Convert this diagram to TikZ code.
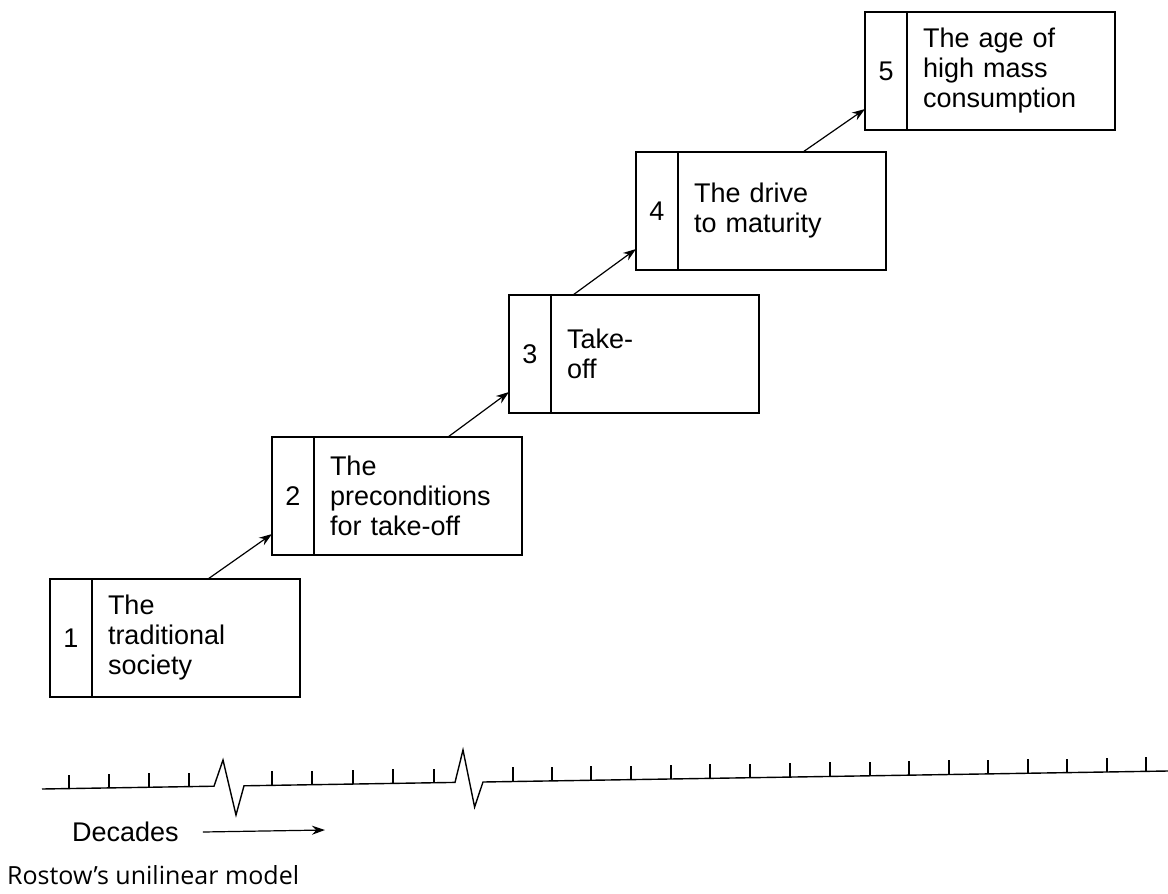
\documentclass[tikz,border=0pt]{standalone}
\usepackage{fontspec}
\usetikzlibrary{positioning,arrows.meta}
\newfontfamily\boxfont{Liberation Sans}
\newfontfamily\capfont{Open Sans}

\tikzset{
  numbox/.style={draw, line width=1.4pt, outer sep=0pt, inner sep=0pt,
    minimum width=42pt, minimum height=118pt, anchor=north west,
    font={\boxfont\fontsize{27pt}{30pt}\selectfont}},
  stagebox/.style={draw, line width=1.4pt, outer sep=0pt, inner xsep=16pt,
    minimum width=208pt, minimum height=118pt, text width=176pt, align=left,
    font={\boxfont\fontsize{27pt}{30pt}\selectfont}},
  stagearrow/.style={line width=1.2pt, -{Stealth[length=13pt,width=9pt]}},
  axisline/.style={line width=1.4pt, line join=miter}
}

\begin{document}
\begin{tikzpicture}[x=1pt,y=-1pt]
\useasboundingbox (0,0) rectangle (1168,894);

% the five stages
\node[numbox] (n1) at (50,579) {1};
\node[stagebox, right=0pt of n1] (t1) {The\\traditional\\society};
\node[numbox] (n2) at (272,437) {2};
\node[stagebox, right=0pt of n2] (t2) {The\\preconditions\\for take-off};
\node[numbox] (n3) at (509,295) {3};
\node[stagebox, right=0pt of n3] (t3) {Take-\\off};
\node[numbox] (n4) at (636,152) {4};
\node[stagebox, right=0pt of n4] (t4) {The drive\\to maturity};
\node[numbox] (n5) at (865,12) {5};
\node[stagebox, right=0pt of n5] (t5) {The age of\\high mass\\consumption};

% arrows between stages
\draw[stagearrow] ([xshift=116pt]t1.north west) -- ([yshift=21pt]n2.south west);
\draw[stagearrow] ([xshift=134pt]t2.north west) -- ([yshift=21pt]n3.south west);
\draw[stagearrow] ([xshift=22pt]t3.north west) -- ([yshift=21pt]n4.south west);
\draw[stagearrow] ([xshift=125pt]t4.north west) -- ([yshift=21pt]n5.south west);

% time axis with two breaks
\draw[axisline] (42,789) -- (214,786.2) -- (223,760) -- (236,815) -- (244,785.8)
  -- (455,782.4) -- (463,750) -- (474.6,807) -- (483,782) -- (1168,771);
\foreach \tx in {69,109,149,189,272,312,353,393,434,
                 513,552,591,631,671,710,750,790,830,870,909,949,988,1028,1067,1107,1146}{
  \pgfmathsetmacro\ty{789-0.016*(\tx-42)}
  \draw[axisline] (\tx,\ty) -- (\tx,\ty-14);
}

% legend
\node[anchor=west, inner sep=0pt, font={\boxfont\fontsize{27pt}{30pt}\selectfont}] (dec) at (72,832) {Decades};
\coordinate (decend) at (325,830);
\draw[line width=1.2pt, -{Stealth[length=13pt,width=9pt]}] ([xshift=24pt]dec.east) -- (decend);
\node[anchor=base west, inner sep=0pt, font={\capfont\fontsize{25pt}{29pt}\selectfont}] (cap) at (7,884) {Rostow’s unilinear model};
\end{tikzpicture}
\end{document}
